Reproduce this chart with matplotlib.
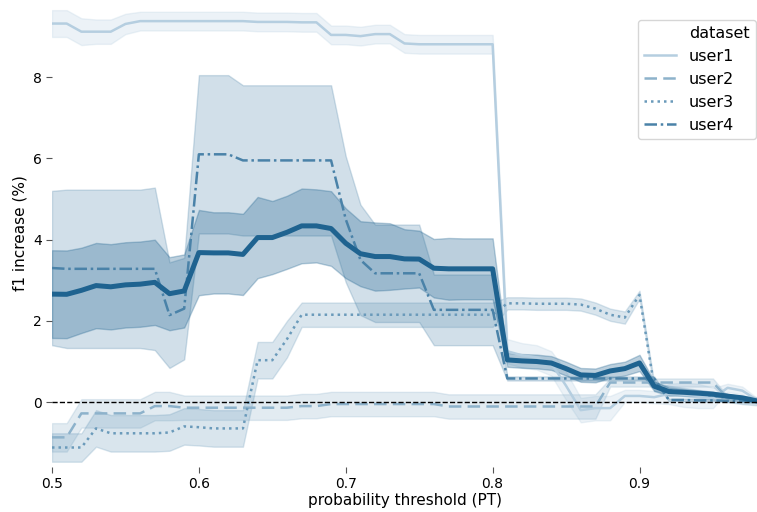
import numpy as np
import matplotlib
matplotlib.use("Agg")
import matplotlib.pyplot as plt
from matplotlib.lines import Line2D

# probability thresholds 0.50 ... 0.98
pt = np.round(np.arange(0.50, 0.985, 0.01), 2)

datasets = ["user1", "user2", "user3", "user4"]

user1 = [9.32, 9.32, 9.12, 9.12, 9.12, 9.31, 9.38, 9.38, 9.38, 9.38,
         9.38, 9.38, 9.38, 9.38, 9.36, 9.36, 9.36, 9.35, 9.35, 9.04,
         9.04, 9.01, 9.06, 9.06, 8.83, 8.81, 8.81, 8.81, 8.81, 8.81,
         8.81, 1.25, 1.15, 1.10, 0.95, 0.40, -0.20, -0.15, -0.15, 0.15,
         0.15, 0.12, 0.20, 0.18, 0.15, 0.10, 0.35, 0.28, 0.05]
user2 = [-0.87, -0.87, -0.28, -0.28, -0.28, -0.28, -0.28, -0.10, -0.10, -0.14,
         -0.14, -0.14, -0.14, -0.14, -0.14, -0.14, -0.14, -0.10, -0.10, -0.05,
         -0.05, -0.05, -0.05, -0.05, -0.05, -0.05, -0.05, -0.11, -0.11, -0.11,
         -0.11, -0.11, -0.11, -0.11, -0.11, -0.11, -0.11, -0.11, 0.48, 0.48,
         0.48, 0.48, 0.48, 0.48, 0.48, 0.48, 0.10, 0.05, 0.02]
user3 = [-1.12, -1.12, -1.12, -0.65, -0.77, -0.77, -0.77, -0.77, -0.75, -0.60,
         -0.62, -0.65, -0.65, -0.65, 1.03, 1.03, 1.55, 2.15, 2.15, 2.15,
         2.15, 2.15, 2.15, 2.15, 2.15, 2.15, 2.15, 2.15, 2.15, 2.15,
         2.15, 2.43, 2.43, 2.42, 2.42, 2.42, 2.40, 2.30, 2.15, 2.08,
         2.64, 0.38, 0.30, 0.25, 0.20, 0.15, 0.10, 0.05, 0.02]
user4 = [3.30, 3.28, 3.28, 3.28, 3.28, 3.28, 3.28, 3.28, 2.14, 2.30,
         6.10, 6.10, 6.10, 5.95, 5.95, 5.95, 5.95, 5.95, 5.95, 5.95,
         4.50, 3.50, 3.17, 3.17, 3.17, 3.17, 2.27, 2.27, 2.27, 2.27,
         2.27, 0.58, 0.58, 0.58, 0.58, 0.58, 0.58, 0.58, 0.58, 0.58,
         0.58, 0.58, 0.05, 0.05, 0.04, 0.04, 0.03, 0.03, 0.02]

# half width of the confidence bands
user1_ci = [0.33, 0.33, 0.33, 0.30, 0.30, 0.25, 0.23, 0.23, 0.23, 0.23,
            0.23, 0.23, 0.23, 0.23, 0.23, 0.23, 0.23, 0.23, 0.23, 0.23,
            0.23, 0.23, 0.23, 0.23, 0.23, 0.23, 0.23, 0.23, 0.23, 0.23,
            0.23, 0.30, 0.30, 0.30, 0.30, 0.35, 0.30, 0.30, 0.30, 0.15,
            0.15, 0.15, 0.25, 0.30, 0.30, 0.25, 0.10, 0.10, 0.05]
user2_ci = [0.35, 0.35, 0.35, 0.35, 0.35, 0.35, 0.35, 0.35, 0.35, 0.30,
            0.30, 0.30, 0.30, 0.30, 0.30, 0.30, 0.30, 0.30, 0.30, 0.30,
            0.30, 0.30, 0.30, 0.30, 0.30, 0.30, 0.30, 0.30, 0.30, 0.30,
            0.30, 0.30, 0.30, 0.30, 0.30, 0.30, 0.30, 0.30, 0.10, 0.10,
            0.10, 0.10, 0.10, 0.10, 0.10, 0.10, 0.05, 0.05, 0.05]
user3_ci = [0.35, 0.35, 0.35, 0.45, 0.45, 0.45, 0.45, 0.45, 0.45, 0.45,
            0.45, 0.45, 0.45, 0.45, 0.45, 0.45, 0.45, 0.30, 0.30, 0.30,
            0.30, 0.30, 0.30, 0.30, 0.30, 0.30, 0.30, 0.30, 0.30, 0.30,
            0.30, 0.15, 0.15, 0.15, 0.15, 0.15, 0.15, 0.15, 0.15, 0.15,
            0.10, 0.10, 0.10, 0.10, 0.10, 0.10, 0.10, 0.10, 0.10]
user4_ci = [1.90, 1.95, 1.95, 1.95, 1.95, 1.95, 1.95, 2.00, 1.30, 1.25,
            1.95, 1.95, 1.95, 1.85, 1.85, 1.85, 1.85, 1.85, 1.85, 1.85,
            1.55, 1.36, 1.20, 1.20, 1.20, 1.20, 0.87, 0.87, 0.87, 0.87,
            0.87, 0.05, 0.05, 0.05, 0.05, 0.05, 0.05, 0.05, 0.05, 0.05,
            0.05, 0.05, 0.03, 0.03, 0.03, 0.03, 0.03, 0.03, 0.03]
mean_ci = [1.08, 1.08, 1.05, 1.05, 1.05, 1.05, 1.05, 1.05, 0.90, 0.90,
           1.05, 1.00, 1.00, 1.00, 1.00, 0.90, 0.90, 0.92, 0.90, 0.92,
           0.86, 0.80, 0.84, 0.82, 0.73, 0.70, 0.72, 0.76, 0.75, 0.75,
           0.75, 0.17, 0.17, 0.17, 0.17, 0.17, 0.17, 0.17, 0.17, 0.17,
           0.20, 0.12, 0.10, 0.08, 0.07, 0.06, 0.05, 0.04, 0.03]

series = [user1, user2, user3, user4]
errors = [user1_ci, user2_ci, user3_ci, user4_ci]
colors = ["#b5cee0", "#8db2cb", "#6a9aba", "#4a82a8"]
styles = ["-", (0, (5, 2.5)), (0, (1, 1.6)), (0, (5, 1.5, 1, 1.5))]
mean_color = "#1f6390"

fig = plt.figure(figsize=(7.57, 5.12), dpi=100)
ax = fig.add_axes([52 / 757, 45 / 512, 705 / 757, 467 / 512])

for name, vals, err, c, ls in zip(datasets, series, errors, colors, styles):
    v = np.array(vals)
    e = np.array(err)
    ax.fill_between(pt, v - e, v + e, color=c, alpha=0.25, lw=1)
    ax.plot(pt, v, color=c, ls=ls, lw=1.8, label=name)

# overall mean over the four users
overall = np.mean(np.array(series), axis=0)
mc = np.array(mean_ci)
ax.fill_between(pt, overall - mc, overall + mc, color=mean_color, alpha=0.3, lw=1)
ax.plot(pt, overall, color=mean_color, lw=3.6)

ax.axhline(0, color="black", ls="--", lw=1)

ax.set_xlim(0.5, 0.98)
ax.set_ylim(-1.6, 9.9)
ax.set_xticks([0.5, 0.6, 0.7, 0.8, 0.9])
ax.set_yticks([0, 2, 4, 6, 8])
ax.tick_params(labelsize=10, length=4, color="#555555")
for s in ax.spines.values():
    s.set_visible(False)
ax.set_xlabel("probability threshold (PT)", fontsize=11, labelpad=1)
ax.set_ylabel("f1 increase (%)", fontsize=11)

handles = [Line2D([], [], color="none")]
labels = ["dataset"]
for name, c, ls in zip(datasets, colors, styles):
    handles.append(Line2D([], [], color=c, ls=ls, lw=1.8))
    labels.append(name)
ax.legend(handles, labels, loc="upper right", bbox_to_anchor=(1.01, 0.975),
          fontsize=11.5, frameon=True)

fig.savefig("out.png", dpi=100)
